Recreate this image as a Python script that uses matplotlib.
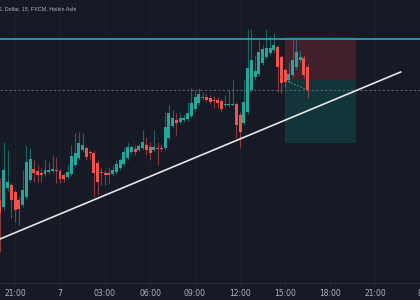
import numpy as np
import matplotlib
matplotlib.use("Agg")
import matplotlib.pyplot as plt
from matplotlib import font_manager

# 15-min Heikin Ashi candles, hours relative to 21:00 of day 6
start_hour = -1.0
step = 0.25

opens = [100, 93, 112, 115, 108, 100, 95, 103, 120, 131, 129, 127, 126, 128, 129, 130,
         129, 125, 123, 126, 135, 142, 150, 152, 148, 147, 137, 128, 127, 127, 126, 128,
         132, 136, 142, 148, 151, 150, 152, 155, 153, 150, 152, 152, 152, 162, 174, 180,
         178, 180, 181, 184, 191, 197, 202, 203, 202, 200, 200, 199, 195, 195, 195, 196,
         185, 177, 188, 210, 223, 226, 237, 243, 247, 250, 253, 243, 230, 220, 225, 233,
         240, 242, 233]
closes = [87, 130, 118, 100, 90, 91, 110, 138, 141, 127, 125, 125, 130, 130, 131, 129,
          121, 121, 128, 144, 147, 157, 155, 143, 147, 127, 118, 127, 125, 125, 130, 136,
          140, 148, 153, 153, 148, 154, 158, 150, 147, 153, 151, 151, 173, 187, 182, 177,
          182, 182, 187, 197, 203, 206, 203, 200, 198, 199, 197, 191, 196, 196, 196, 175,
          168, 198, 232, 240, 229, 248, 251, 252, 252, 255, 233, 217, 218, 226, 240, 248,
          243, 225, 210]
highs = [122, 158, 150, 117, 110, 103, 130, 155, 152, 140, 135, 132, 140, 138, 145, 143,
         131, 127, 135, 155, 167, 168, 167, 154, 150, 149, 140, 132, 130, 133, 135, 140,
         142, 153, 158, 155, 155, 156, 170, 163, 158, 170, 158, 156, 188, 195, 190, 187,
         187, 186, 198, 212, 210, 212, 208, 206, 205, 204, 203, 201, 205, 210, 220, 198,
         188, 220, 271, 271, 245, 260, 255, 271, 264, 267, 255, 245, 232, 238, 260, 260,
         250, 245, 236]
lows = [48, 90, 108, 82, 78, 75, 93, 101, 118, 118, 118, 118, 124, 126, 127, 117,
        117, 118, 121, 124, 133, 140, 148, 140, 140, 103, 105, 115, 115, 117, 124, 126,
        130, 134, 140, 146, 145, 148, 150, 145, 140, 148, 135, 148, 150, 160, 172, 165,
        176, 178, 179, 182, 189, 195, 200, 198, 196, 192, 192, 188, 193, 193, 194, 162,
        152, 175, 186, 208, 220, 224, 235, 241, 245, 248, 208, 207, 212, 217, 223, 231,
        238, 222, 202]

tick_hours = [0, 3, 6, 9, 12, 15, 18, 21, 24, 27]
tick_labels = ["21:00", "7", "03:00", "06:00", "09:00", "12:00", "15:00", "18:00", "21:00", "8"]

resistance = 261
trend_x = [-1.0, 25.71]
trend_y = [61, 228]
pos_start, pos_end = 18.0, 22.73
entry, stop, target = 220, 263, 157

bg = "#161a25"
up, down = "#26a69a", "#ef5350"

opens = np.array(opens, float)
closes = np.array(closes, float)
highs = np.array(highs, float)
lows = np.array(lows, float)
t = start_hour + step * np.arange(len(opens))
col = np.where(closes >= opens, up, down)

# narrow font for the header, if there is one
names = {f.name for f in font_manager.fontManager.ttflist}
title_font = "Liberation Sans Narrow" if "Liberation Sans Narrow" in names else (
    "DejaVu Sans Condensed" if "DejaVu Sans Condensed" in names else "Liberation Sans")
title_size = 4.8 if title_font != "Liberation Sans" else 3.9

fig = plt.figure(figsize=(4.2, 3.0), dpi=100, facecolor=bg)
ax = fig.add_axes([0, 17 / 300, 1, 283 / 300], facecolor=bg)

# faint grid
for h in tick_hours:
    ax.axvline(h, color="#1c2030", lw=0.6, zorder=0)

# position tool (short)
ax.fill_between([pos_start, pos_end], entry, stop, color="#f23645", alpha=0.2, lw=0, zorder=1)
ax.fill_between([pos_start, pos_end], target, entry, color="#089981", alpha=0.22, lw=0, zorder=1)

ax.axhline(resistance, color="#2596a8", lw=1.4, zorder=2)
ax.axhline(closes[-1], color="#5d606b", lw=0.8, ls=(0, (2, 2)), zorder=2)
ax.plot([pos_start, t[-1]], [entry, closes[-1]], color="#8a8d96", lw=0.6, ls=(0, (2, 2)), zorder=2)

# candles
ax.vlines(t, lows, highs, colors=col, lw=0.8, alpha=0.55, zorder=3)
body = np.where(np.abs(closes - opens) < 1.2, np.sign(closes - opens + 1e-9) * 1.2, closes - opens)
ax.bar(t, body, bottom=opens, width=0.2, color=col, lw=0, zorder=4)

ax.plot(trend_x, trend_y, color="#e6e6e6", lw=1.2, zorder=5)

ax.set_xlim(-1, 27)
ax.set_ylim(17, 300)
ax.set_xticks(tick_hours)
ax.set_xticklabels(tick_labels)
ax.set_yticks([])
ax.tick_params(axis="x", colors="#2a2e39", length=2, width=0.6, pad=2,
               labelcolor="#b2b5be", labelsize=5.5)
for s in ["top", "left", "right"]:
    ax.spines[s].set_visible(False)
ax.spines["bottom"].set_color("#2a2e39")
ax.spines["bottom"].set_linewidth(0.8)

fig.text(76 / 420, 1 - 9 / 300, "U.S. Dollar, 15, FXCM, Heikin Ashi", ha="right", va="center",
         color="#b2b5be", fontsize=title_size, family=title_font)

fig.savefig("out.png", dpi=100, facecolor=bg)
